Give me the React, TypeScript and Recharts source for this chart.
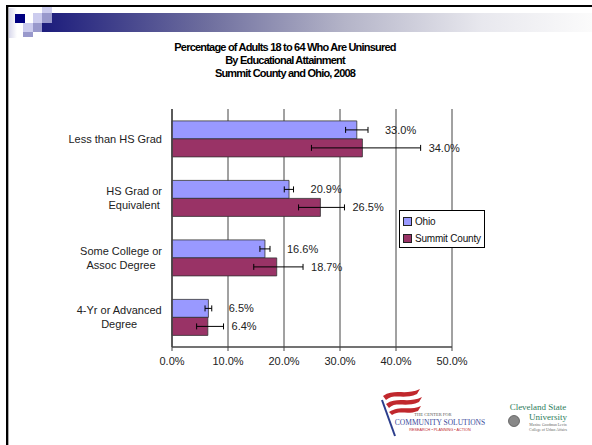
import React from 'react';
import {
  Bar,
  BarChart,
  CartesianGrid,
  ErrorBar,
  LabelList,
  Legend,
  XAxis,
  YAxis,
} from 'recharts';

const categories = [
  'Less than HS Grad',
  'HS Grad or\nEquivalent',
  'Some College or\nAssoc Degree',
  '4-Yr or Advanced\nDegree',
];
const ohio = [33.0, 20.9, 16.6, 6.5];
const summit = [34.0, 26.5, 18.7, 6.4];
// [below, above] error amounts
const ohioErr = [[2.0, 2.0], [0.85, 0.8], [0.9, 0.9], [0.6, 0.6]];
const summitErr = [[9.1, 10.4], [3.9, 4.3], [4.1, 4.7], [2.0, 2.8]];
const xTicks = [0, 10, 20, 30, 40, 50];
const titleLines = [
  'Percentage of Adults 18 to 64 Who Are Uninsured',
  'By Educational Attainment',
  'Summit County and Ohio, 2008',
];

const data = categories.map((c, i) => ({
  category: c,
  ohio: ohio[i],
  summit: summit[i],
  ohioErr: ohioErr[i],
  summitErr: summitErr[i],
}));

const FONT = "'Liberation Sans', Arial, sans-serif";
const SERIF = "'Liberation Serif', serif";
const OHIO = '#9999ff';
const SUMMIT = '#993366';

let ctx: CanvasRenderingContext2D | null = null;
function textWidth(s: string) {
  if (!ctx) ctx = document.createElement('canvas').getContext('2d');
  if (!ctx) return s.length * 5.5;
  ctx.font = `11px ${FONT}`;
  return ctx.measureText(s).width;
}

function CategoryTick(props: any) {
  const { x, y, payload } = props;
  const lines = String(payload.value).split('\n');
  const w = Math.max(...lines.map(textWidth));
  const cx = x - w / 2;
  const top = y - ((lines.length - 1) * 14) / 2;
  return (
    <g>
      {lines.map((l, i) => (
        <text key={i} x={cx} y={top + i * 14} dy="0.35em" textAnchor="middle"
          fontSize={11} fill="#222" fontFamily={FONT}>
          {l}
        </text>
      ))}
    </g>
  );
}

const makeLabel = (errs: number[][], gap: number) => (props: any) => {
  const { x, y, width, height, value, index } = props;
  const px = width / value;
  const lx = x + (value + errs[index][1]) * px + gap;
  return (
    <text x={lx} y={y + height / 2} dy="0.35em" fontSize={11} fill="#222" fontFamily={FONT}>
      {Number(value).toFixed(1)}%
    </text>
  );
};

function LegendBox() {
  const items = [
    { name: 'Ohio', color: OHIO },
    { name: 'Summit County', color: SUMMIT },
  ];
  return (
    <div style={{ width: 84, height: 36, border: '1px solid #000', background: '#fff',
      fontFamily: FONT, fontSize: 10, letterSpacing: -0.2, color: '#111', whiteSpace: 'nowrap' }}>
      {items.map((it, i) => (
        <div key={it.name} style={{ display: 'flex', alignItems: 'center', height: 17,
          marginTop: i === 0 ? 2 : 0, paddingLeft: 3 }}>
          <span style={{ width: 7, height: 7, background: it.color, border: '1px solid #222',
            marginRight: 3, display: 'inline-block', flex: 'none' }} />
          {it.name}
        </div>
      ))}
    </div>
  );
}

function Slide() {
  return (
    <svg width={592} height={445} style={{ position: 'absolute', left: 0, top: 0 }}>
      <defs>
        <linearGradient id="hdr" x1="0" y1="0" x2="1" y2="0">
          <stop offset="0" stopColor="#1c1c7c" />
          <stop offset="0.3" stopColor="#6e6e9e" />
          <stop offset="0.55" stopColor="#b4b4c8" />
          <stop offset="0.8" stopColor="#e8e8ee" />
          <stop offset="1" stopColor="#fbfbfb" />
        </linearGradient>
        <linearGradient id="ghost" x1="0" y1="0" x2="1" y2="0">
          <stop offset="0" stopColor="#d8d8ec" />
          <stop offset="1" stopColor="#ffffff" />
        </linearGradient>
      </defs>
      <rect x={0} y={0} width={592} height={445} fill="#fff" />
      <rect x={9} y={8} width={8} height={30} fill="url(#ghost)" />
      <rect x={42} y={13} width={550} height={19} fill="url(#hdr)" />
      <rect x={15} y={14} width={10} height={9} fill="#000080" />
      <rect x={33} y={13} width={9} height={10} fill="#ccccee" />
      <rect x={42} y={7} width={10} height={6} fill="#ccccee" />
      <rect x={42} y={13} width={10} height={10} fill="#9999cc" />
      <rect x={23} y={23} width={10} height={9} fill="#ccccee" />
      <rect x={33} y={23} width={9} height={9} fill="#9999cc" />
      <rect x={23} y={32} width={10} height={5} fill="#9999cc" />
      <rect x={6} y={5} width={586} height={2} fill="#000" />
      <rect x={6} y={5} width={2} height={440} fill="#000" />
      <rect x={8} y={7} width={1} height={438} fill="#aaa" />

      {titleLines.map((t, i) => (
        <text key={i} x={285} y={47 + i * 13} dy="0.35em" textAnchor="middle"
          fontSize={11} fontWeight="bold" fill="#000" letterSpacing={-0.8}
          fontFamily={FONT}>
          {t}
        </text>
      ))}

      {/* Center for Community Solutions logo */}
      <path d="M383 396 C395 388 405 396 420 389 L417 394 C404 400 394 393 386 400 Z" fill="#c0282d" />
      <path d="M386 404 C398 396 408 404 422 397 L419 402 C406 408 396 401 389 408 Z" fill="#c0282d" />
      <path d="M389 412 C400 405 410 411 421 406 L418 411 C408 415 399 410 392 415 Z" fill="#c0282d" />
      <line x1={382} y1={400} x2={395} y2={436} stroke="#2c3e8c" strokeWidth={2} />
      <text x={433} y={414} dy="0.35em" textAnchor="middle" fontSize={4.5} fill="#555" fontFamily={SERIF}>THE CENTER FOR</text>
      <text x={440} y={422} dy="0.35em" textAnchor="middle" fontSize={7.5} fill="#3a4a9a" fontFamily={SERIF}>COMMUNITY SOLUTIONS</text>
      <text x={440} y={429.5} dy="0.35em" textAnchor="middle" fontSize={3.8} fill="#c0282d" fontFamily={FONT}>RESEARCH • PLANNING • ACTION</text>

      {/* Cleveland State University logo */}
      <text x={538} y={407} dy="0.35em" textAnchor="middle" fontSize={9} fill="#2e7d5b" fontFamily={SERIF}>Cleveland State</text>
      <text x={548} y={416.5} dy="0.35em" textAnchor="middle" fontSize={9} fill="#2e7d5b" fontFamily={SERIF}>University</text>
      <circle cx={514} cy={421} r={5.5} fill="#888" stroke="#555" strokeWidth={0.8} />
      <text x={548} y={424.5} dy="0.35em" textAnchor="middle" fontSize={3.8} fill="#666" fontFamily={SERIF}>Maxine Goodman Levin</text>
      <text x={548} y={429.5} dy="0.35em" textAnchor="middle" fontSize={3.8} fill="#666" fontFamily={SERIF}>College of Urban Affairs</text>
    </svg>
  );
}

export default function App() {
  return (
    <div style={{ position: 'absolute', left: 0, top: 0, width: 592, height: 445, background: '#fff' }}>
      <Slide />
      <div style={{ position: 'absolute', left: 0, top: 0 }}>
        <BarChart
          width={592}
          height={445}
          data={data}
          layout="vertical"
          margin={{ top: 109, right: 140, bottom: 68, left: 62 }}
          barCategoryGap="20%"
          barGap={0}
        >
          <CartesianGrid horizontal={false} stroke="#444" />
          <XAxis
            type="number"
            domain={[0, 50]}
            ticks={xTicks}
            tickFormatter={(v: number) => `${v.toFixed(1)}%`}
            tickSize={4}
            tickMargin={6}
            height={30}
            axisLine={{ stroke: '#444', strokeWidth: 1.5 }}
            tickLine={{ stroke: '#444' }}
            tick={{ fontSize: 11, fill: '#222', fontFamily: FONT }}
          />
          <YAxis
            type="category"
            dataKey="category"
            width={110}
            tickSize={0}
            tickMargin={10}
            tickLine={false}
            axisLine={{ stroke: '#444', strokeWidth: 1.5 }}
            tick={<CategoryTick />}
            interval={0}
          />
          <YAxis
            yAxisId="edges"
            type="number"
            domain={[0, 4]}
            ticks={[0, 1, 2, 3, 4]}
            allowDataOverflow
            width={0}
            axisLine={false}
            tickSize={4}
            tickLine={{ stroke: '#444' }}
            tick={() => <g />}
          />
          <Legend
            layout="horizontal"
            verticalAlign="middle"
            align="center"
            wrapperStyle={{ left: 399, top: 210, width: 86 }}
            content={() => <LegendBox />}
          />
          <Bar dataKey="ohio" name="Ohio" fill={OHIO} stroke="#333" strokeWidth={0.8} isAnimationActive={false}>
            <ErrorBar dataKey="ohioErr" direction="x" width={3} stroke="#000" strokeWidth={1} />
            <LabelList dataKey="ohio" content={makeLabel(ohioErr, 17)} />
          </Bar>
          <Bar dataKey="summit" name="Summit County" fill={SUMMIT} stroke="#333" strokeWidth={0.8} isAnimationActive={false}>
            <ErrorBar dataKey="summitErr" direction="x" width={3} stroke="#000" strokeWidth={1} />
            <LabelList dataKey="summit" content={makeLabel(summitErr, 8)} />
          </Bar>
        </BarChart>
      </div>
    </div>
  );
}
